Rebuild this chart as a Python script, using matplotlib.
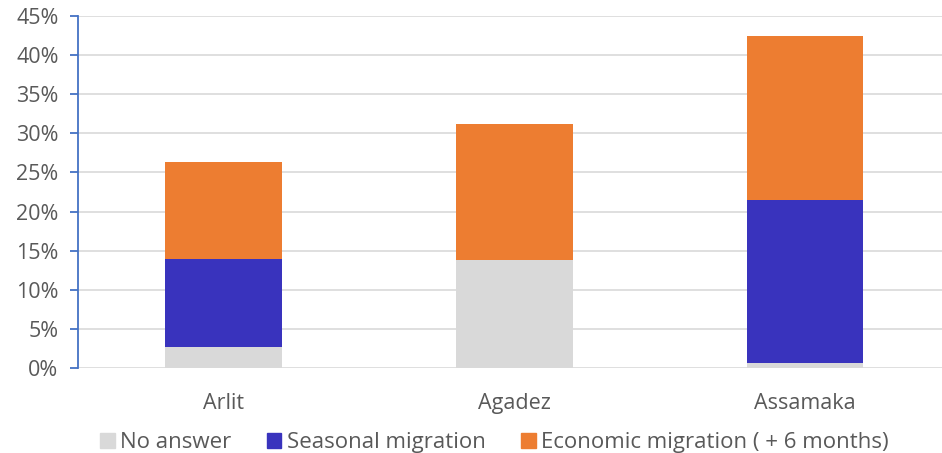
import matplotlib
matplotlib.use("Agg")
import matplotlib.pyplot as plt
from matplotlib.ticker import FuncFormatter, MultipleLocator
from matplotlib.patches import Patch

categories = ["Arlit", "Agadez", "Assamaka"]
series_names = ["No answer", "Seasonal migration", "Economic migration ( + 6 months)"]
no_answer = [2.7, 13.8, 0.7]
seasonal = [11.2, 0.0, 20.8]
economic = [12.4, 17.4, 20.9]
colors = ["#D9D9D9", "#3933BD", "#ED7D31"]

plt.rcParams['font.family'] = ['Open Sans', 'DejaVu Sans']

fig = plt.figure(figsize=(9.42, 4.53), dpi=100)
ax = fig.add_axes([78/942, (453-368)/453, 1 - 78/942, (368-16)/453])

x = list(range(len(categories)))
bottom = [0.0] * len(categories)
for vals, col in zip([no_answer, seasonal, economic], colors):
    ax.bar(x, vals, width=0.4, bottom=bottom, color=col, zorder=3)
    bottom = [b + v for b, v in zip(bottom, vals)]

ax.set_ylim(0, 45)
ax.set_xlim(-0.5, 2.47)
ax.yaxis.set_major_locator(MultipleLocator(5))
ax.yaxis.set_major_formatter(FuncFormatter(lambda v, p: f"{v:.0f}%"))
ax.set_xticks(x)
ax.set_xticklabels(categories)
ax.grid(axis='y', color='#D9D9D9', linewidth=1.2, zorder=0)
for s in ['top', 'right', 'bottom']:
    ax.spines[s].set_visible(False)
ax.spines['left'].set_color('#4472C4')
ax.spines['left'].set_linewidth(1.3)
ax.tick_params(axis='y', colors='#4472C4', labelcolor='#595959', labelsize=15.5, length=6, width=1.3, pad=8)
ax.tick_params(axis='x', length=0, labelcolor='#595959', labelsize=15.5, pad=18)

handles = [Patch(color=c) for c in colors]
fig.legend(handles, series_names, loc='lower center', bbox_to_anchor=(0.525, -0.045), ncol=3,
           frameon=False, fontsize=16, labelcolor='#595959', handlelength=0.65, handleheight=0.65,
           handletextpad=0.25, columnspacing=1.6)

fig.savefig("out.png", dpi=100)
